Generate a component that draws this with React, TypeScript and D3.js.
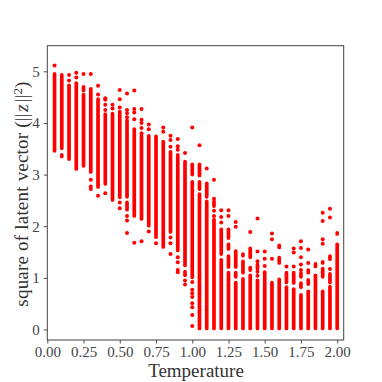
import React, { useRef, useEffect } from 'react';
import * as d3 from 'd3';

const temperatures = [
  0.05, 0.1, 0.15, 0.2, 0.25, 0.3, 0.35, 0.4, 0.45, 0.5,
  0.55, 0.6, 0.65, 0.7, 0.75, 0.8, 0.85, 0.9, 0.95, 1.0,
  1.05, 1.1, 1.15, 1.2, 1.25, 1.3, 1.35, 1.4, 1.45, 1.5,
  1.55, 1.6, 1.65, 1.7, 1.75, 1.8, 1.85, 1.9, 1.95, 2.0,
];

// stretches of a column where the points overlap into a solid bar
const denseRuns: number[][][] = [
  [[4.95, 3.46]],
  [[4.93, 3.51], [3.38, 3.35]],
  [[4.73, 3.3]],
  [[4.77, 3.11]],
  [[4.7, 4.63], [4.55, 3.17]],
  [[4.66, 3.05]],
  [[4.46, 2.76]],
  [[4.17, 2.82]],
  [[4.18, 2.51]],
  [[4.22, 2.56]],
  [[4.05, 2.57], [2.46, 2.32]],
  [[3.88, 2.2]],
  [[3.75, 2.14]],
  [[3.75, 2.01]],
  [[3.74, 1.84]],
  [[3.64, 1.6]],
  [[3.44, 1.89]],
  [[3.38, 1.53]],
  [[3.25, 1.24], [1.12, 1.05]],
  [[3.2, 3.0], [2.86, 1.01]],
  [[3.2, 2.98], [2.86, 2.72], [2.62, 0.02]],
  [[2.83, 2.57], [2.48, 0.02]],
  [[2.48, 2.39], [2.13, 0.02]],
  [[1.94, 1.46], [1.35, 0.02]],
  [[1.94, 1.77], [1.65, 1.56], [1.42, 1.21], [1.1, 0.02]],
  [[1.52, 1.21], [1.1, 1.02], [0.91, 0.02]],
  [[1.46, 1.43], [1.32, 1.1], [0.98, 0.02]],
  [[1.57, 1.4], [1.2, 1.15], [1.05, 0.02]],
  [[1.26, 1.18], [0.95, 0.02]],
  [[1.11, 1.06], [1.02, 0.02]],
  [[0.91, 0.02]],
  [[1.63, 1.59], [1.39, 1.29], [0.97, 0.02]],
  [[1.1, 0.91], [0.82, 0.02]],
  [[1.1, 0.9], [0.78, 0.02]],
  [[1.09, 1.02], [0.9, 0.82], [0.67, 0.02]],
  [[1.15, 1.1], [0.96, 0.88], [0.74, 0.02]],
  [[1.27, 1.22], [1.05, 0.02]],
  [[1.31, 1.29], [1.18, 1.02], [0.74, 0.02]],
  [[1.42, 1.36], [1.08, 0.91], [0.83, 0.02]],
  [[1.87, 1.85], [1.65, 0.02]],
];

// points that sit apart from the bars
const loosePoints: number[][] = [
  [5.11],
  [],
  [4.93, 4.82],
  [4.97, 4.88],
  [4.95],
  [4.95, 2.9, 2.77, 2.72],
  [4.72, 4.55, 2.59],
  [4.48, 4.45, 4.35, 4.25, 2.64],
  [4.35, 4.28],
  [4.64, 4.46, 4.3, 2.46, 2.35],
  [4.57, 4.25, 4.19, 4.11, 2.2, 2.11, 1.87],
  [4.63, 4.27, 4.2, 4.07, 1.68],
  [4.27, 4.06, 4.0, 3.9, 3.8, 1.71],
  [3.97, 3.88, 1.9],
  [1.79, 1.67],
  [3.91, 3.83],
  [3.75, 3.67, 3.54, 1.78, 1.67, 1.46],
  [3.69, 3.55, 3.48, 1.4, 1.3, 1.15, 1.11],
  [3.42, 0.95, 0.87],
  [3.91, 0.92, 0.77, 0.7, 0.63, 0.51, 0.43, 0.28, 0.07],
  [3.57],
  [3.12],
  [2.9, 2.53, 2.3, 2.2],
  [2.31, 2.18, 2.07],
  [2.31, 2.2],
  [2.08, 1.99],
  [],
  [1.89],
  [2.15, 1.51, 1.32, 1.12, 1.04],
  [1.51, 1.37, 1.23],
  [1.86, 1.75, 1.37],
  [],
  [1.22],
  [1.57, 1.49, 1.22],
  [1.71, 1.58, 1.4, 1.26, 1.15],
  [1.55, 1.29],
  [],
  [2.26, 2.1, 1.75, 1.66],
  [2.34, 2.17, 1.17],
  [],
];

const xTicks = [0, 0.25, 0.5, 0.75, 1, 1.25, 1.5, 1.75, 2];
const yTicks = [0, 1, 2, 3, 4, 5];

const SERIF = '"Liberation Serif", "DejaVu Serif", serif';

export default function App() {
  const svgRef = useRef<SVGSVGElement>(null);

  useEffect(() => {
    const svg = d3.select(svgRef.current);
    svg.selectAll('*').remove();

    const left = 47.3;
    const right = 343.7;
    const top = 45.7;
    const bottom = 340;

    const x = d3.scaleLinear().domain([0, 2]).range([left, 337.2]);
    const y = d3.scaleLinear().domain([0, 5]).range([329.5, 71.3]);

    const plot = svg.append('g');
    temperatures.forEach((t, i) => {
      plot.selectAll(null)
        .data(denseRuns[i])
        .enter().append('line')
        .attr('x1', x(t))
        .attr('x2', x(t))
        .attr('y1', d => y(d[0]))
        .attr('y2', d => y(d[1]))
        .attr('stroke', '#ff0000')
        .attr('stroke-width', 3.7)
        .attr('stroke-linecap', 'round');

      plot.selectAll(null)
        .data(loosePoints[i])
        .enter().append('circle')
        .attr('cx', x(t))
        .attr('cy', d => y(d))
        .attr('r', 2)
        .attr('fill', '#ff0000');
    });

    const xAxis = svg.append('g')
      .attr('transform', `translate(0,${bottom})`)
      .call(d3.axisBottom(x).tickValues(xTicks).tickFormat(d3.format('.2f')).tickSize(3.5).tickPadding(2.5));
    const yAxis = svg.append('g')
      .attr('transform', `translate(${left},0)`)
      .call(d3.axisLeft(y).tickValues(yTicks).tickFormat(d3.format('d')).tickSize(3.5).tickPadding(4));

    [xAxis, yAxis].forEach(a => {
      a.select('.domain').remove();
      a.selectAll('line').attr('stroke', '#222').attr('stroke-width', 0.8);
      a.selectAll('text')
        .attr('fill', '#444')
        .style('font-family', SERIF)
        .style('font-size', '15px');
    });

    svg.append('rect')
      .attr('x', left)
      .attr('y', top)
      .attr('width', right - left)
      .attr('height', bottom - top)
      .attr('fill', 'none')
      .attr('stroke', '#444')
      .attr('stroke-width', 1);

    svg.append('text')
      .attr('x', 196)
      .attr('y', 376.5)
      .attr('text-anchor', 'middle')
      .attr('fill', '#333')
      .style('font-family', SERIF)
      .style('font-size', '19px')
      .text('Temperature');

    const yLabel = svg.append('text')
      .attr('transform', 'translate(28,194) rotate(-90)')
      .attr('text-anchor', 'middle')
      .attr('fill', '#333')
      .style('font-family', SERIF)
      .style('font-size', '19px')
      .style('letter-spacing', '0.2px');
    yLabel.append('tspan').text('square of latent vector (||');
    yLabel.append('tspan').attr('font-style', 'italic').attr('dx', 1.5).text('z');
    yLabel.append('tspan').attr('dx', 1.5).text('||');
    yLabel.append('tspan').attr('font-size', '13px').attr('dy', -6).text('2');
    yLabel.append('tspan').attr('dy', 6).text(')');
  }, []);

  return (
    <svg
      ref={svgRef}
      width={382}
      height={382}
      style={{ position: 'absolute', left: 0, top: 0, background: '#fff' }}
    />
  );
}
